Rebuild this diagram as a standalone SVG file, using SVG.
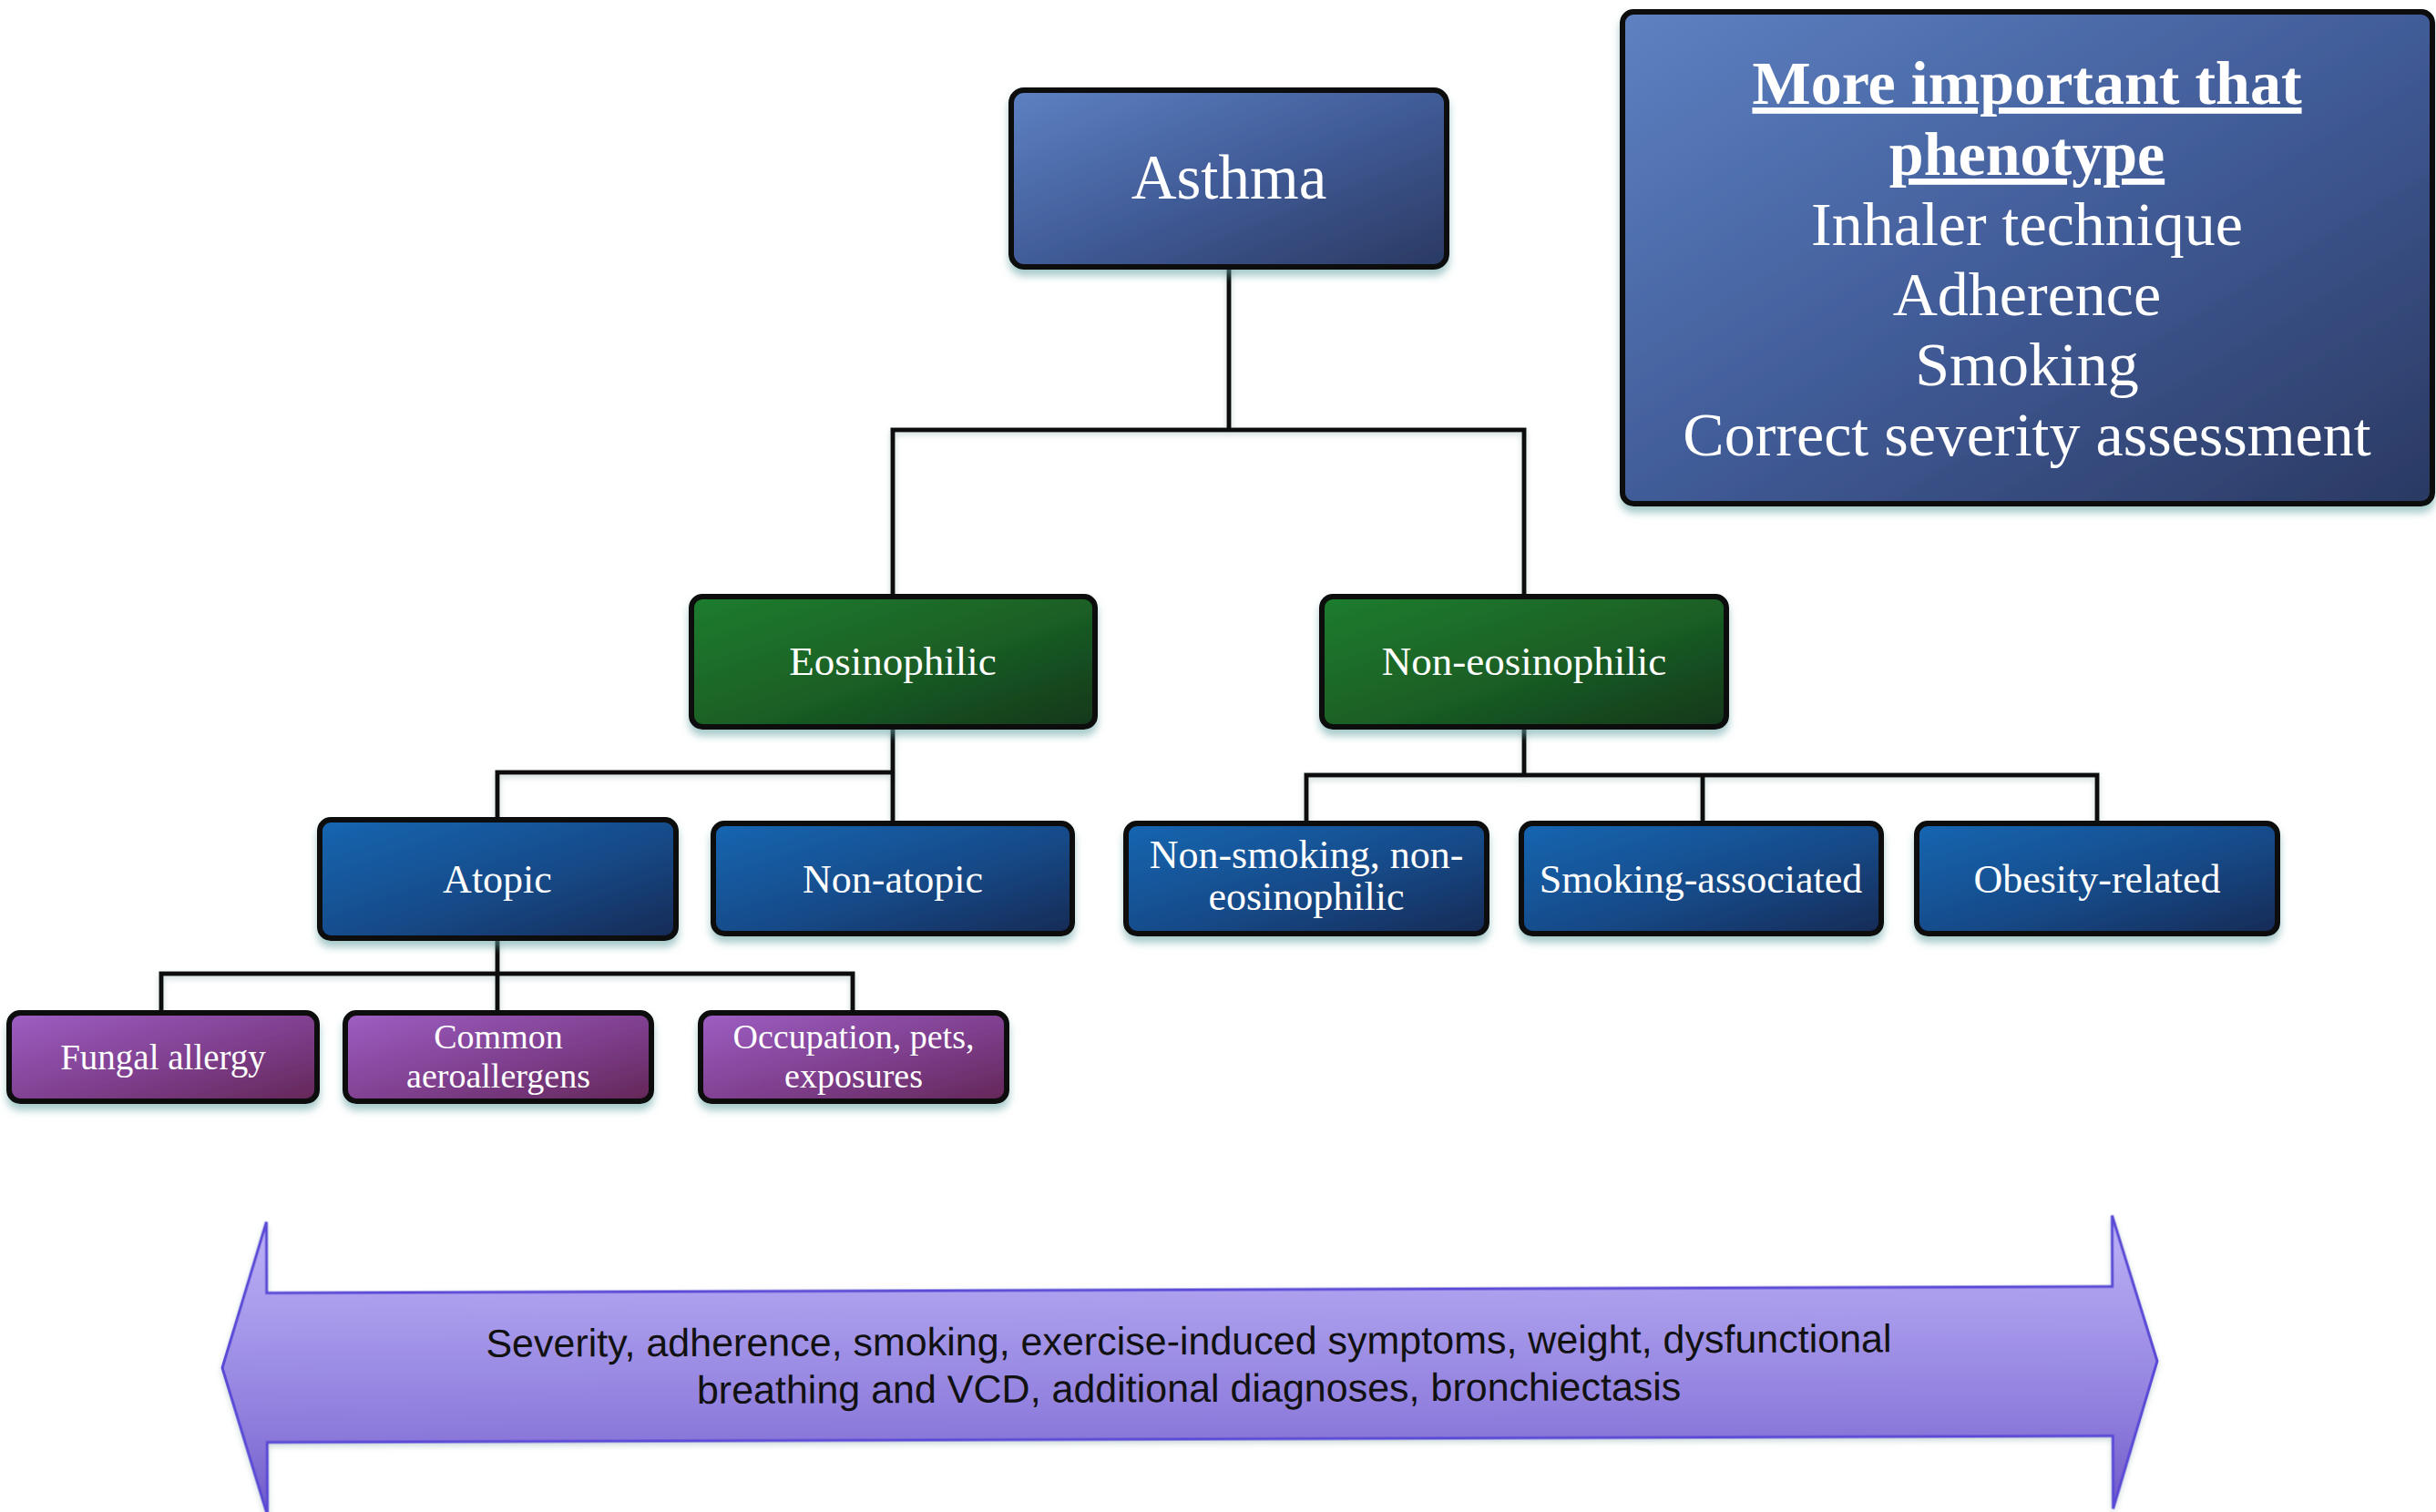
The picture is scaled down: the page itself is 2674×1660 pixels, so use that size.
<svg xmlns="http://www.w3.org/2000/svg" width="2674" height="1660" viewBox="0 0 2674 1660">
  <defs>
    <linearGradient id="gSlate" x1="0" y1="0" x2="1" y2="1">
      <stop offset="0" stop-color="#5d81c2"/>
      <stop offset="0.5" stop-color="#415c98"/>
      <stop offset="1" stop-color="#2a3962"/>
    </linearGradient>
    <linearGradient id="gGreen" x1="0" y1="0" x2="1" y2="1">
      <stop offset="0" stop-color="#1f7d2e"/>
      <stop offset="0.55" stop-color="#1a5e25"/>
      <stop offset="1" stop-color="#11361a"/>
    </linearGradient>
    <linearGradient id="gBlue" x1="0" y1="0" x2="1" y2="1">
      <stop offset="0" stop-color="#1566b2"/>
      <stop offset="0.55" stop-color="#174a88"/>
      <stop offset="1" stop-color="#182a55"/>
    </linearGradient>
    <linearGradient id="gPurple" x1="0" y1="0" x2="1" y2="1">
      <stop offset="0" stop-color="#9d5fc4"/>
      <stop offset="0.55" stop-color="#7f3f8e"/>
      <stop offset="1" stop-color="#632656"/>
    </linearGradient>
    <linearGradient id="gArrow" x1="0" y1="0" x2="0" y2="1">
      <stop offset="0" stop-color="#bcb2f6"/>
      <stop offset="0.3" stop-color="#a99cec"/>
      <stop offset="0.7" stop-color="#8e7cdc"/>
      <stop offset="1" stop-color="#6e5ac8"/>
    </linearGradient>
    <filter id="glow" x="-10%" y="-20%" width="120%" height="150%">
      <feDropShadow dx="0" dy="7" stdDeviation="4" flood-color="#5f9f9f" flood-opacity="0.55"/>
    </filter>
    <filter id="soft" x="-5%" y="-20%" width="110%" height="140%">
      <feDropShadow dx="0" dy="3" stdDeviation="3" flood-color="#7fa0a0" flood-opacity="0.4"/>
    </filter>
  </defs>
  <style>
    .box { stroke: #0b0b0b; stroke-width: 6; filter: url(#glow); }
    .lbl { font-family: "Liberation Serif", "Times New Roman", serif; fill: #ffffff; text-anchor: middle; }
    .wire { stroke: #111111; stroke-width: 5; fill: none; stroke-linecap: square; }
  </style>

  <rect width="2674" height="1660" fill="#ffffff"/>

  <!-- connectors -->
  <g id="connectors" class="wire" filter="url(#soft)">
    <path d="M1349 293 V472 M980 472 H1673 M980 472 V655 M1673 472 V655"/>
    <path d="M980 798 V848 M546 848 H980 M546 848 V900 M980 848 V904"/>
    <path d="M1673 798 V851 M1434 851 H2302 M1434 851 V904 M1869 851 V904 M2302 851 V904"/>
    <path d="M546 1030 V1069 M177 1069 H936 M177 1069 V1112 M546 1069 V1112 M936 1069 V1112"/>
  </g>

  <!-- root -->
  <g id="asthma">
    <rect class="box" x="1110" y="99" width="478" height="194" rx="14" fill="url(#gSlate)"/>
    <text class="lbl" x="1349" y="218" font-size="69">Asthma</text>
  </g>

  <!-- side note -->
  <g id="note">
    <rect class="box" x="1781" y="13" width="889" height="540" rx="12" fill="url(#gSlate)"/>
    <g class="lbl" font-size="68">
      <text x="2225" y="114" font-weight="bold" text-decoration="underline">More important that</text>
      <text x="2225" y="192" font-weight="bold" text-decoration="underline">phenotype</text>
      <text x="2225" y="269">Inhaler technique</text>
      <text x="2225" y="346">Adherence</text>
      <text x="2225" y="423">Smoking</text>
      <text x="2225" y="500">Correct severity assessment</text>
    </g>
  </g>

  <!-- second level -->
  <g id="eosinophilic">
    <rect class="box" x="759" y="655" width="443" height="143" rx="12" fill="url(#gGreen)"/>
    <text class="lbl" x="980" y="741" font-size="45">Eosinophilic</text>
  </g>
  <g id="non-eosinophilic">
    <rect class="box" x="1451" y="655" width="444" height="143" rx="12" fill="url(#gGreen)"/>
    <text class="lbl" x="1673" y="741" font-size="45">Non-eosinophilic</text>
  </g>

  <!-- third level -->
  <g id="atopic">
    <rect class="box" x="351" y="900" width="391" height="130" rx="12" fill="url(#gBlue)"/>
    <text class="lbl" x="546" y="980" font-size="44">Atopic</text>
  </g>
  <g id="non-atopic">
    <rect class="box" x="783" y="904" width="394" height="121" rx="12" fill="url(#gBlue)"/>
    <text class="lbl" x="980" y="980" font-size="44">Non-atopic</text>
  </g>
  <g id="non-smoking">
    <rect class="box" x="1236" y="904" width="396" height="121" rx="12" fill="url(#gBlue)"/>
    <text class="lbl" x="1434" y="953" font-size="44">Non-smoking, non-</text>
    <text class="lbl" x="1434" y="999" font-size="44">eosinophilic</text>
  </g>
  <g id="smoking-associated">
    <rect class="box" x="1670" y="904" width="395" height="121" rx="12" fill="url(#gBlue)"/>
    <text class="lbl" x="1867" y="980" font-size="44">Smoking-associated</text>
  </g>
  <g id="obesity-related">
    <rect class="box" x="2104" y="904" width="396" height="121" rx="12" fill="url(#gBlue)"/>
    <text class="lbl" x="2302" y="980" font-size="44">Obesity-related</text>
  </g>

  <!-- fourth level -->
  <g id="fungal-allergy">
    <rect class="box" x="10" y="1112" width="338" height="97" rx="12" fill="url(#gPurple)"/>
    <text class="lbl" x="179" y="1174" font-size="39">Fungal allergy</text>
  </g>
  <g id="common-aeroallergens">
    <rect class="box" x="379" y="1112" width="336" height="97" rx="12" fill="url(#gPurple)"/>
    <text class="lbl" x="547" y="1151" font-size="38">Common</text>
    <text class="lbl" x="547" y="1194" font-size="38">aeroallergens</text>
  </g>
  <g id="occupation">
    <rect class="box" x="769" y="1112" width="336" height="97" rx="12" fill="url(#gPurple)"/>
    <text class="lbl" x="937" y="1151" font-size="38">Occupation, pets,</text>
    <text class="lbl" x="937" y="1194" font-size="38">exposures</text>
  </g>

  <!-- double-headed span arrow -->
  <g id="span-arrow" transform="rotate(-0.2 1305 1498)">
    <path d="M244 1498 L293 1338 L293 1416 L2319 1416 L2319 1338 L2368 1498 L2319 1660 L2319 1580 L293 1580 L293 1660 Z"
          fill="url(#gArrow)" stroke="#5a48d6" stroke-width="3" stroke-linejoin="miter" filter="url(#soft)"/>
    <g font-family="'Liberation Sans', Arial, sans-serif" font-size="43" fill="#111111" text-anchor="middle">
      <text x="1305" y="1487">Severity, adherence, smoking, exercise-induced symptoms, weight, dysfunctional</text>
      <text x="1305" y="1539">breathing and VCD, additional diagnoses, bronchiectasis</text>
    </g>
  </g>
</svg>
